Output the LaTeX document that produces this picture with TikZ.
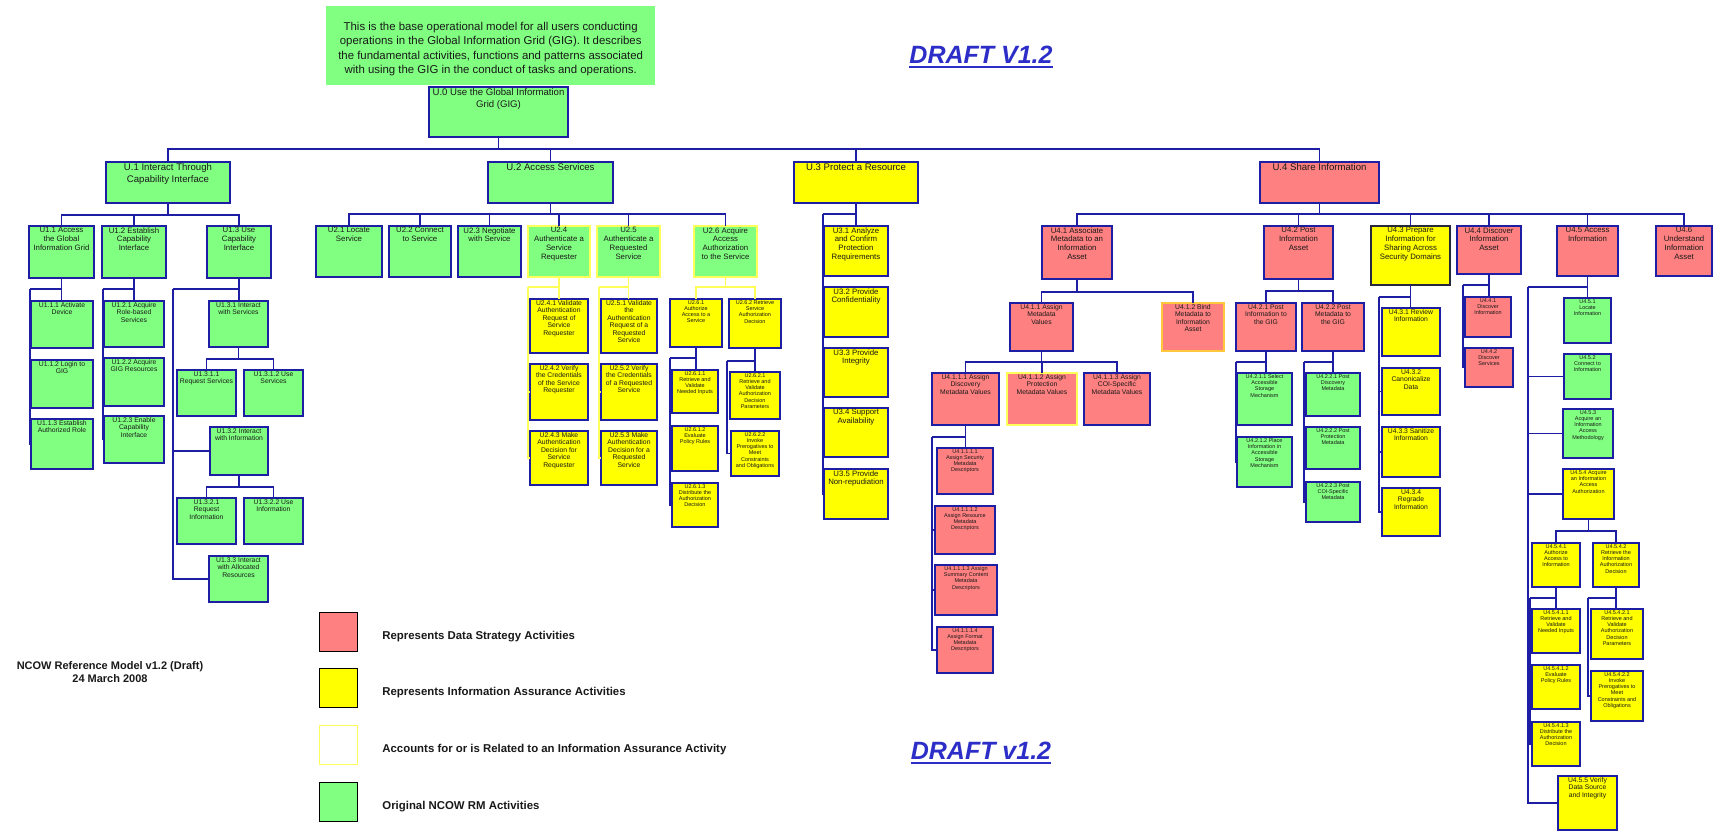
\documentclass[tikz,border=0pt]{standalone}
\usepackage{fontspec}
\setmainfont{Liberation Sans}
\definecolor{gfill}{RGB}{128,255,128}
\definecolor{rfill}{RGB}{255,128,128}
\definecolor{yfill}{RGB}{255,255,0}
\definecolor{bline}{RGB}{30,30,165}
\definecolor{yline}{RGB}{255,255,90}
\definecolor{oline}{RGB}{255,200,60}
\definecolor{kline}{RGB}{40,40,60}
\definecolor{dtext}{RGB}{45,45,200}
\definecolor{txt}{RGB}{25,25,25}
\newcommand\fntA{\fontsize{9.6}{12}\selectfont}
\newcommand\fntB{\fontsize{7.8}{8.8}\selectfont}
\newcommand\fntC{\fontsize{6.8}{7.5}\selectfont}
\newcommand\fntD{\fontsize{5.5}{6.2}\selectfont}
% name, style, font, x1, y1, x2, y2, text
\newcommand\bx[8]{\node[#2,anchor=north west] (#1) at (#4,#5)
  {\parbox[t][\dimexpr#7pt-#5pt\relax][t]{\dimexpr#6pt-#4pt\relax}{#3\centering\vspace*{1.5pt}#8\par}};}
% horizontal bus: style, parent, y, children
\newcommand\hbus[4]{\coordinate (#2hb) at (0,#3);
  \foreach \ch in {#4} {\draw[#1] (#2.south) -- (#2.south |- #2hb) -| (\ch.north);}}
% left bracket: style, parent, x, y, first child, other children
\newcommand\lbr[6]{\coordinate (#2lb) at (#3,#4);
  \draw[#1] (#2.south) -- (#2.south |- #5.north);
  \draw[#1] (#2.south |- #2lb) -- (#2lb);
  \foreach \ch in {#6} {\draw[#1] (#2lb) |- (\ch.west);}}
\begin{document}
\begin{tikzpicture}[x=1pt,y=-1pt,
  box/.style={draw=bline,line width=1.4pt,inner sep=0pt,outer sep=0pt,text=txt},
  boxG/.style={box,fill=gfill},
  boxR/.style={box,fill=rfill},
  boxY/.style={box,fill=yfill},
  boxGY/.style={box,fill=gfill,draw=yline},
  boxRY/.style={box,fill=rfill,draw=yline},
  boxRO/.style={box,fill=rfill,draw=oline},
  boxYK/.style={box,fill=yfill,draw=kline},
  conn/.style={draw=bline,line width=1.2pt},
  yconn/.style={draw=yline,line width=1.2pt},
  legbox/.style={draw=black,line width=1.2pt,minimum width=38pt,minimum height=39pt,inner sep=0pt,anchor=north west},
  legtext/.style={anchor=west,inner sep=0pt,font=\bfseries\fontsize{11.4}{13}\selectfont,text=txt},
  draft/.style={inner sep=0pt,text=dtext,font=\bfseries\itshape\fontsize{25}{30}\selectfont}]
\useasboundingbox (0,0) rectangle (1716,833);
\fill[white] (0,0) rectangle (1716,833);

% title
\node[fill=gfill,inner sep=0pt,anchor=north west] (title) at (326,6)
  {\parbox[t][79pt][t]{329pt}{\centering\fontsize{11.4}{14.3}\selectfont\color{txt}\vspace*{16pt}This is the base operational model for all users conducting\\operations in the Global Information Grid (GIG). It describes\\the fundamental activities, functions and patterns associated\\with using the GIG in the conduct of tasks and operations.\par}};
\node[draft] (draft1) at (981,55) {DRAFT V1.2};
\draw[dtext,line width=1.6pt] ([yshift=-3pt]draft1.base west) -- ([yshift=-3pt]draft1.base east);
\node[draft] (draft2) at (981,751) {DRAFT v1.2};
\draw[dtext,line width=1.6pt] ([yshift=-3pt]draft2.base west) -- ([yshift=-3pt]draft2.base east);

% level 0 and 1
\bx{U0}{boxG}{\fntA}{429}{87}{568}{137}{U.0 Use the Global Information\\Grid (GIG)}
\bx{U1}{boxG}{\fntA}{106}{162}{230}{203}{U.1 Interact Through\\Capability Interface}
\bx{U2}{boxG}{\fntA}{488}{162}{613}{203}{U.2 Access Services}
\bx{U3}{boxY}{\fntA}{794}{162}{918}{203}{U.3 Protect a Resource}
\bx{U4}{boxR}{\fntA}{1260}{162}{1379}{203}{U.4 Share Information}

% U.1 subtree
\bx{U11}{boxG}{\fntB}{29}{226}{94}{278}{U1.1 Access\\the Global\\Information Grid}
\bx{U12}{boxG}{\fntB}{102}{226}{166}{278}{U1.2 Establish\\Capability\\Interface}
\bx{U13}{boxG}{\fntB}{207}{226}{271}{278}{U1.3 Use\\Capability\\Interface}
\bx{U111}{boxG}{\fntC}{31}{301}{93}{348}{U1.1.1 Activate\\Device}
\bx{U112}{boxG}{\fntC}{31}{360}{93}{408}{U1.1.2 Login to\\GIG}
\bx{U113}{boxG}{\fntC}{31}{419}{93}{469}{U1.1.3 Establish\\Authorized Role}
\bx{U121}{boxG}{\fntC}{104}{301}{164}{347}{U1.2.1 Acquire\\Role-based\\Services}
\bx{U122}{boxG}{\fntC}{104}{358}{164}{406}{U1.2.2 Acquire\\GIG Resources}
\bx{U123}{boxG}{\fntC}{104}{416}{164}{463}{U1.2.3 Enable\\Capability\\Interface}
\bx{U131}{boxG}{\fntC}{209}{301}{268}{347}{U1.3.1 Interact\\with Services}
\bx{U1311}{boxG}{\fntC}{177}{370}{236}{416}{U1.3.1.1\\Request Services}
\bx{U1312}{boxG}{\fntC}{244}{370}{303}{416}{U1.3.1.2 Use\\Services}
\bx{U132}{boxG}{\fntC}{210}{427}{268}{475}{U1.3.2 Interact\\with Information}
\bx{U1321}{boxG}{\fntC}{177}{498}{236}{544}{U1.3.2.1\\Request\\Information}
\bx{U1322}{boxG}{\fntC}{244}{498}{303}{544}{U1.3.2.2 Use\\Information}
\bx{U133}{boxG}{\fntC}{209}{556}{268}{602}{U1.3.3 Interact\\with Allocated\\Resources}

% U.2 subtree
\bx{U21}{boxG}{\fntB}{316}{226}{382}{277}{U2.1 Locate\\Service}
\bx{U22}{boxG}{\fntB}{389}{226}{451}{277}{U2.2 Connect\\to Service}
\bx{U23}{boxG}{\fntB}{458}{226}{521}{277}{U2.3 Negotiate\\with Service}
\bx{U24}{boxGY}{\fntB}{528}{226}{590}{277}{U2.4\\Authenticate a\\Service\\Requester}
\bx{U25}{boxGY}{\fntB}{597}{226}{660}{277}{U2.5\\Authenticate a\\Requested\\Service}
\bx{U26}{boxGY}{\fntB}{694}{226}{757}{277}{U2.6 Acquire\\Access\\Authorization\\to the Service}
\bx{U241}{boxY}{\fntC}{530}{299}{588}{353}{U2.4.1 Validate\\Authentication\\Request of\\Service\\Requester}
\bx{U242}{boxY}{\fntC}{530}{364}{588}{420}{U2.4.2 Verify\\the Credentials\\of the Service\\Requester}
\bx{U243}{boxY}{\fntC}{530}{431}{588}{485}{U2.4.3 Make\\Authentication\\Decision for\\Service\\Requester}
\bx{U251}{boxY}{\fntC}{601}{299}{657}{353}{U2.5.1 Validate\\the\\Authentication\\Request of a\\Requested\\Service}
\bx{U252}{boxY}{\fntC}{601}{364}{657}{420}{U2.5.2 Verify\\the Credentials\\of a Requested\\Service}
\bx{U253}{boxY}{\fntC}{601}{431}{657}{485}{U2.5.3 Make\\Authentication\\Decision for a\\Requested\\Service}
\bx{U261}{boxY}{\fntD}{670}{299}{722}{347}{U2.6.1\\Authorize\\Access to a\\Service}
\bx{U262}{boxY}{\fntD}{729}{299}{781}{348}{U2.6.2 Retrieve\\Service\\Authorization\\Decision}
\bx{U2611}{boxY}{\fntD}{672}{370}{718}{413}{U2.6.1.1\\Retrieve and\\Validate\\Needed Inputs}
\bx{U2612}{boxY}{\fntD}{672}{426}{718}{471}{U2.6.1.2\\Evaluate\\Policy Rules}
\bx{U2613}{boxY}{\fntD}{672}{483}{718}{527}{U2.6.1.3\\Distribute the\\Authorization\\Decision}
\bx{U2621}{boxY}{\fntD}{730}{372}{780}{419}{U2.6.2.1\\Retrieve and\\Validate\\Authorization\\Decision\\Parameters}
\bx{U2622}{boxY}{\fntD}{731}{431}{779}{476}{U2.6.2.2\\Invoke\\Prerogatives to\\Meet\\Constraints\\and Obligations}

% U.3 subtree
\bx{U31}{boxY}{\fntB}{824}{226}{888}{276}{U3.1 Analyze\\and Confirm\\Protection\\Requirements}
\bx{U32}{boxY}{\fntB}{824}{287}{888}{337}{U3.2 Provide\\Confidentiality}
\bx{U33}{boxY}{\fntB}{824}{348}{888}{397}{U3.3 Provide\\Integrity}
\bx{U34}{boxY}{\fntB}{824}{408}{888}{457}{U3.4 Support\\Availability}
\bx{U35}{boxY}{\fntB}{824}{469}{888}{519}{U3.5 Provide\\Non-repudiation}

% U.4 subtree
\bx{U41}{boxR}{\fntB}{1042}{226}{1112}{279}{U4.1 Associate\\Metadata to an\\Information\\Asset}
\bx{U42}{boxR}{\fntB}{1264}{226}{1333}{279}{U4.2 Post\\Information\\Asset}
\bx{U43}{boxYK}{\fntB}{1371}{226}{1450}{285}{U4.3 Prepare\\Information for\\Sharing Across\\Security Domains}
\bx{U44}{boxR}{\fntB}{1457}{226}{1521}{274}{U4.4 Discover\\Information\\Asset}
\bx{U45}{boxR}{\fntB}{1557}{226}{1618}{276}{U4.5 Access\\Information}
\bx{U46}{boxR}{\fntB}{1656}{226}{1712}{276}{U4.6\\Understand\\Information\\Asset}
\bx{U411}{boxR}{\fntC}{1010}{303}{1073}{351}{U4.1.1 Assign\\Metadata\\Values}
\bx{U412}{boxRO}{\fntC}{1162}{303}{1224}{351}{U4.1.2 Bind\\Metadata to\\Information\\Asset}
\bx{U4111}{boxR}{\fntC}{932}{373}{999}{425}{U4.1.1.1 Assign\\Discovery\\Metadata Values}
\bx{U4112}{boxRY}{\fntC}{1007}{373}{1077}{425}{U4.1.1.2 Assign\\Protection\\Metadata Values}
\bx{U4113}{boxR}{\fntC}{1084}{373}{1150}{425}{U4.1.1.3 Assign\\COI-Specific\\Metadata Values}
\bx{U41111}{boxR}{\fntD}{937}{448}{993}{494}{U4.1.1.1.1\\Assign Security\\Metadata\\Descriptors}
\bx{U41112}{boxR}{\fntD}{935}{506}{995}{554}{U4.1.1.1.2\\Assign Resource\\Metadata\\Descriptors}
\bx{U41113}{boxR}{\fntD}{935}{565}{997}{615}{U4.1.1.1.3 Assign\\Summary Content\\Metadata\\Descriptors}
\bx{U41114}{boxR}{\fntD}{937}{627}{993}{673}{U4.1.1.1.4\\Assign Format\\Metadata\\Descriptors}
\bx{U421}{boxR}{\fntC}{1236}{303}{1296}{351}{U4.2.1 Post\\Information to\\the GIG}
\bx{U422}{boxR}{\fntC}{1302}{303}{1364}{351}{U4.2.2 Post\\Metadata to\\the GIG}
\bx{U4211}{boxG}{\fntD}{1237}{373}{1292}{425}{U4.2.1.1 Select\\Accessible\\Storage\\Mechanism}
\bx{U4212}{boxG}{\fntD}{1237}{437}{1292}{487}{U4.2.1.2 Place\\Information in\\Accessible\\Storage\\Mechanism}
\bx{U4221}{boxG}{\fntD}{1306}{373}{1360}{416}{U4.2.2.1 Post\\Discovery\\Metadata}
\bx{U4222}{boxG}{\fntD}{1306}{427}{1360}{469}{U4.2.2.2 Post\\Protection\\Metadata}
\bx{U4223}{boxG}{\fntD}{1306}{482}{1360}{522}{U4.2.2.3 Post\\COI-Specific\\Metadata}
\bx{U431}{boxY}{\fntC}{1382}{308}{1440}{356}{U4.3.1 Review\\Information}
\bx{U432}{boxY}{\fntC}{1382}{368}{1440}{415}{U4.3.2\\Canonicalize\\Data}
\bx{U433}{boxY}{\fntC}{1382}{427}{1440}{477}{U4.3.3 Sanitize\\Information}
\bx{U434}{boxY}{\fntC}{1382}{488}{1440}{536}{U4.3.4\\Regrade\\Information}
\bx{U441}{boxR}{\fntD}{1465}{297}{1511}{337}{U4.4.1\\Discover\\Information}
\bx{U442}{boxR}{\fntD}{1465}{348}{1513}{387}{U4.4.2\\Discover\\Services}
\bx{U451}{boxG}{\fntD}{1564}{298}{1611}{343}{U4.5.1\\Locate\\Information}
\bx{U452}{boxG}{\fntD}{1564}{354}{1611}{399}{U4.5.2\\Connect to\\Information}
\bx{U453}{boxG}{\fntD}{1563}{409}{1613}{458}{U4.5.3\\Acquire an\\Information\\Access\\Methodology}
\bx{U454}{boxY}{\fntD}{1563}{469}{1614}{519}{U4.5.4 Acquire\\an Information\\Access\\Authorization}
\bx{U4541}{boxY}{\fntD}{1532}{543}{1580}{587}{U4.5.4.1\\Authorize\\Access to\\Information}
\bx{U4542}{boxY}{\fntD}{1593}{543}{1639}{587}{U4.5.4.2\\Retrieve the\\Information\\Authorization\\Decision}
\bx{U45411}{boxY}{\fntD}{1532}{609}{1580}{653}{U4.5.4.1.1\\Retrieve and\\Validate\\Needed Inputs}
\bx{U45412}{boxY}{\fntD}{1532}{665}{1580}{709}{U4.5.4.1.2\\Evaluate\\Policy Rules}
\bx{U45413}{boxY}{\fntD}{1532}{722}{1580}{766}{U4.5.4.1.3\\Distribute the\\Authorization\\Decision}
\bx{U45421}{boxY}{\fntD}{1591}{609}{1643}{659}{U4.5.4.2.1\\Retrieve and\\Validate\\Authorization\\Decision\\Parameters}
\bx{U45422}{boxY}{\fntD}{1591}{671}{1643}{721}{U4.5.4.2.2\\Invoke\\Prerogatives to\\Meet\\Constraints and\\Obligations}
\bx{U455}{boxY}{\fntC}{1558}{776}{1617}{830}{U4.5.5 Verify\\Data Source\\and Integrity}

% connectors
\coordinate (mb) at (0,149);
\draw[conn] (U0.south) -- (U0.south |- mb);
\draw[conn] (U1.north) |- (mb -| U4.north) -- (U4.north);
\draw[conn] (U2.north) -- (U2.north |- mb);
\draw[conn] (U3.north) -- (U3.north |- mb);

\hbus{conn}{U1}{215}{U11,U12,U13}
\lbr{conn}{U11}{30}{289}{U111}{U112,U113}
\lbr{conn}{U12}{103}{289}{U121}{U122,U123}
\lbr{conn}{U13}{173}{289}{U131}{U132,U133}
\hbus{conn}{U131}{359}{U1311,U1312}
\hbus{conn}{U132}{487}{U1321,U1322}
\hbus{conn}{U2}{214}{U21,U22,U23,U24,U25,U26}
\lbr{yconn}{U24}{528}{287}{U241}{U242,U243}
\lbr{yconn}{U25}{599}{287}{U251}{U252,U253}
\hbus{yconn}{U26}{287}{U261,U262}
\lbr{conn}{U261}{670}{358}{U2611}{U2612,U2613}
\lbr{conn}{U262}{727}{361}{U2621}{U2622}
\lbr{conn}{U3}{823}{214}{U31}{U32,U33,U34,U35}
\hbus{conn}{U4}{214}{U41,U42,U43,U44,U45,U46}
\hbus{conn}{U41}{292}{U411,U412}
\hbus{conn}{U411}{362}{U4111,U4112,U4113}
\lbr{conn}{U4111}{932}{437}{U41111}{U41112,U41113,U41114}
\hbus{conn}{U42}{291}{U421,U422}
\lbr{conn}{U421}{1236}{362}{U4211}{U4212}
\lbr{conn}{U422}{1304}{362}{U4221}{U4222,U4223}
\lbr{conn}{U43}{1379}{297}{U431}{U432,U433,U434}
\lbr{conn}{U44}{1463}{285}{U441}{U442}
\lbr{conn}{U45}{1528}{287}{U451}{U452,U453,U454,U455}
\hbus{conn}{U454}{531}{U4541,U4542}
\lbr{conn}{U4541}{1530}{598}{U45411}{U45412,U45413}
\lbr{conn}{U4542}{1588}{598}{U45421}{U45422}

% footer note
\node[align=center,inner sep=0pt,text=txt,font=\bfseries\fontsize{11}{13.5}\selectfont] (ncow) at (110,672)
  {NCOW Reference Model v1.2 (Draft)\\24 March 2008};

% legend
\node[legbox,fill=rfill] (lg1) at (319,612) {};
\node[legbox,fill=yfill] (lg2) at (319,668) {};
\node[legbox,draw=yline,fill=white] (lg3) at (319,725) {};
\node[legbox,fill=gfill] (lg4) at (319,782) {};
\node[legtext] (lt1) at ([xshift=24pt,yshift=-4pt]lg1.east) {Represents Data Strategy Activities};
\node[legtext] (lt2) at ([xshift=24pt,yshift=-4pt]lg2.east) {Represents Information Assurance Activities};
\node[legtext] (lt3) at ([xshift=24pt,yshift=-4pt]lg3.east) {Accounts for or is Related to an Information Assurance Activity};
\node[legtext] (lt4) at ([xshift=24pt,yshift=-4pt]lg4.east) {Original NCOW RM Activities};
\end{tikzpicture}
\end{document}
